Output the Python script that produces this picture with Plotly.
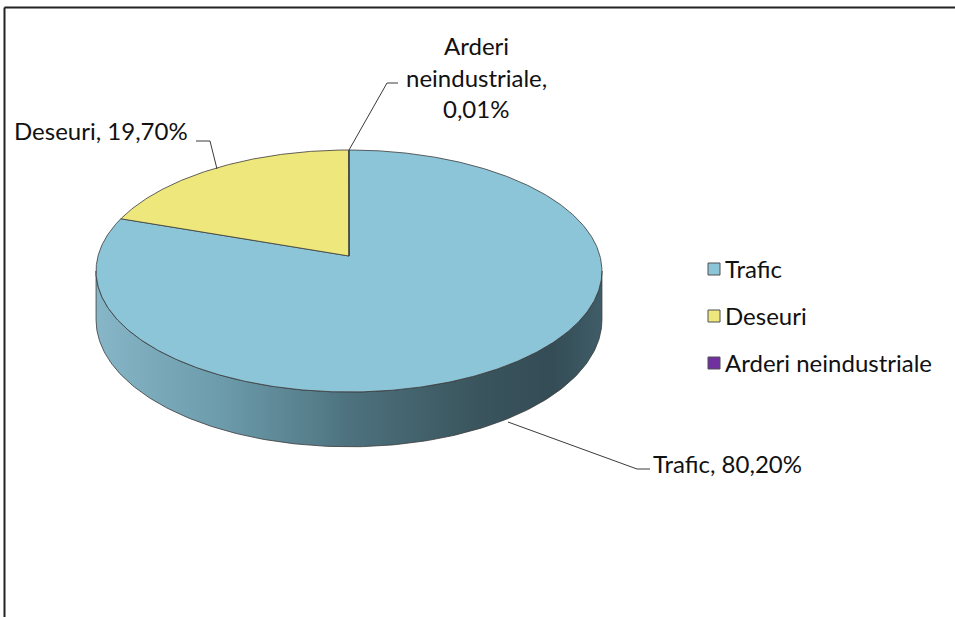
import numpy as np
import plotly.graph_objects as go

# ---- data ----
categories = ["Trafic", "Deseuri", "Arderi neindustriale"]
shares = [80.20, 19.70, 0.01]
share_labels = ["80,20%", "19,70%", "0,01%"]
top_colors = ["#8CC5D8", "#EEE77C", "#7030A0"]

# ---- tilted-disc projection (screen pixels, y downwards) ----
CX, CY, K, Q, S, T = 349.0, 256.0, 0.124, -87.4, 251.0, 48.0
EDGE = "#3A3A3A"


def rim(theta_deg, drop=0.0):
    th = np.radians(theta_deg)
    u, v = np.sin(th), np.cos(th)
    w = 1 + K * v
    return CX + S * u / w, (CY + Q * v + drop) / w


total = sum(shares)
bounds = np.concatenate([[0.0], np.cumsum(shares) / total * 360.0])

fig = go.Figure()

# side wall of the disc (front half)
front = np.linspace(97.1, 262.9, 200)
tx, ty = rim(front)
bx, by = rim(front[::-1], T)
fig.add_trace(go.Scatter(
    x=np.concatenate([tx, bx, tx[:1]]), y=np.concatenate([ty, by, ty[:1]]),
    mode="lines", fill="toself", line=dict(color=EDGE, width=0.8),
    fillgradient=dict(type="horizontal", colorscale=[
        [0.0, "#86B6C7"], [0.25, "#6C9BAB"], [0.5, "#4D727E"],
        [0.75, "#3A555E"], [0.9, "#344C55"], [1.0, "#3F5D68"]]),
    hoverinfo="skip", showlegend=False))

# top faces of the slices
for i, cat in enumerate(categories):
    a0, a1 = bounds[i], bounds[i + 1]
    n = max(2, int((a1 - a0) * 2))
    ang = np.linspace(a0, a1, n)
    rx, ry = rim(ang)
    fig.add_trace(go.Scatter(
        x=np.concatenate([[CX], rx, [CX]]), y=np.concatenate([[CY], ry, [CY]]),
        mode="lines", fill="toself", fillcolor=top_colors[i],
        line=dict(color=EDGE, width=0.8), hoverinfo="skip", showlegend=False))

# leader lines
leaders = [
    ([508, 637, 650], [422, 469, 469]),      # Trafic
    ([217, 210, 196], [169, 141, 141]),      # Deseuri
    ([349, 387, 398], [150, 83, 83]),        # Arderi neindustriale
]
for lx, ly in leaders:
    fig.add_trace(go.Scatter(x=lx, y=ly, mode="lines",
                             line=dict(color=EDGE, width=1),
                             hoverinfo="skip", showlegend=False))

FONT = dict(family="Lato, Carlito, sans-serif", size=24, color="#111111")

# data labels
fig.add_annotation(x=651, y=463, text=f"{categories[0]}, {share_labels[0]}",
                   xanchor="left", yanchor="middle", showarrow=False, font=FONT)
fig.add_annotation(x=190, y=130, text=f"{categories[1]}, {share_labels[1]}",
                   xanchor="right", yanchor="middle", showarrow=False, font=FONT)
for txt, yy in zip(["Arderi", "neindustriale,", share_labels[2]], [45, 77, 108]):
    fig.add_annotation(x=476, y=yy, text=txt, xanchor="center",
                       yanchor="middle", showarrow=False, font=FONT)

# legend
leg_y = [269, 316, 363]
fig.add_trace(go.Scatter(
    x=[714] * 3, y=leg_y, mode="markers",
    marker=dict(symbol="square", size=12, color=top_colors,
                line=dict(color="#505050", width=1)),
    hoverinfo="skip", showlegend=False))
for cat, yy in zip(categories, leg_y):
    fig.add_annotation(x=723, y=yy - 1, text=cat, xanchor="left",
                       yanchor="middle", showarrow=False, font=FONT)

# chart frame
fig.add_shape(type="line", x0=4.5, x1=4.5, y0=617, y1=7.5,
              line=dict(color="#222222", width=2))
fig.add_shape(type="line", x0=4.5, x1=955, y0=7.5, y1=7.5,
              line=dict(color="#222222", width=2))

fig.update_xaxes(range=[0, 955], visible=False, fixedrange=True)
fig.update_yaxes(range=[617, 0], visible=False, fixedrange=True)
fig.update_layout(width=955, height=617, margin=dict(l=0, r=0, t=0, b=0),
                  paper_bgcolor="white", plot_bgcolor="white",
                  showlegend=False)

fig.write_html("out.html")
